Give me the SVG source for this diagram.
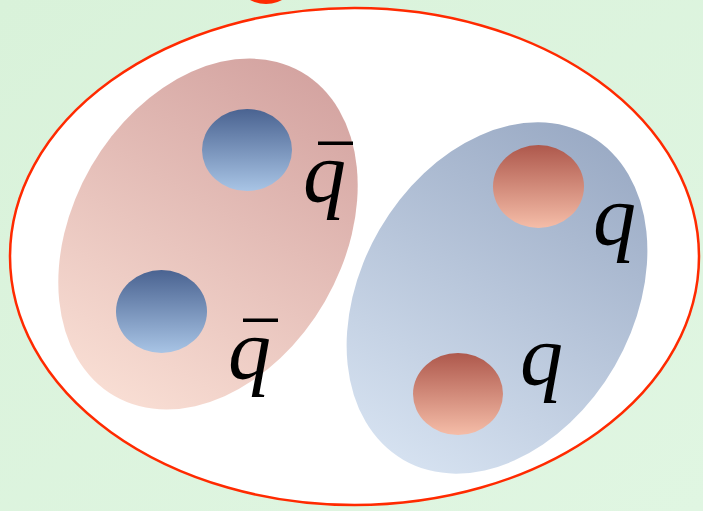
<svg xmlns="http://www.w3.org/2000/svg" width="703" height="511" viewBox="0 0 703 511">
<defs>
<style>
.lbl{font-family:"Liberation Serif","Times New Roman",serif;font-style:italic;font-size:86px;fill:#000}
.bar{fill:#000}
</style>
<linearGradient id="bg" x1="0" y1="0" x2="1" y2="1">
<stop offset="0" stop-color="#d9f2da"/><stop offset="1" stop-color="#e0f6e2"/>
</linearGradient>
<linearGradient id="pinkG" x1="0" y1="0.5" x2="1" y2="0.5">
<stop offset="0" stop-color="#f8ddd3"/><stop offset="1" stop-color="#d4a4a1"/>
</linearGradient>
<linearGradient id="blueG" x1="0" y1="0.5" x2="1" y2="0.5">
<stop offset="0" stop-color="#d5e1f0"/><stop offset="1" stop-color="#9babc5"/>
</linearGradient>
<linearGradient id="aq" x1="0" y1="0" x2="0" y2="1">
<stop offset="0" stop-color="#4a6391"/><stop offset="1" stop-color="#a8c4e5"/>
</linearGradient>
<linearGradient id="qq" x1="0" y1="0" x2="0" y2="1">
<stop offset="0" stop-color="#ae584c"/><stop offset="1" stop-color="#f5bda8"/>
</linearGradient>
</defs>
<rect width="703" height="511" fill="url(#bg)"/>
<ellipse id="blob" cx="266" cy="-22" rx="30" ry="26" fill="#ff2a00"/>
<g id="hadron">
<ellipse cx="354.5" cy="256.5" rx="344.5" ry="248.5" fill="#fff" stroke="#ff2a00" stroke-width="2.5"/>
</g>
<g id="diquark-anti">
<ellipse cx="208" cy="234" rx="187" ry="135" fill="url(#pinkG)" transform="rotate(-60 208 234)"/>
</g>
<g id="diquark">
<ellipse cx="497" cy="298" rx="187" ry="136" fill="url(#blueG)" transform="rotate(-60 497 298)"/>
</g>
<g id="antiquark1">
<ellipse cx="247" cy="150" rx="45" ry="41" fill="url(#aq)"/>
<text class="lbl" x="303" y="201">q</text>
<rect class="bar" x="318" y="141.5" width="35" height="3.5"/>
</g>
<g id="antiquark2">
<ellipse cx="161.5" cy="311.5" rx="45.5" ry="41.5" fill="url(#aq)"/>
<text class="lbl" x="228" y="378">q</text>
<rect class="bar" x="243" y="318.5" width="35" height="3.5"/>
</g>
<g id="quark1">
<ellipse cx="538.5" cy="186.5" rx="45.5" ry="41.5" fill="url(#qq)"/>
<text class="lbl" x="593" y="244">q</text>
</g>
<g id="quark2">
<ellipse cx="458" cy="394" rx="45" ry="41" fill="url(#qq)"/>
<text class="lbl" x="520" y="384">q</text>
</g>
<g id="connectors"/>
</svg>
